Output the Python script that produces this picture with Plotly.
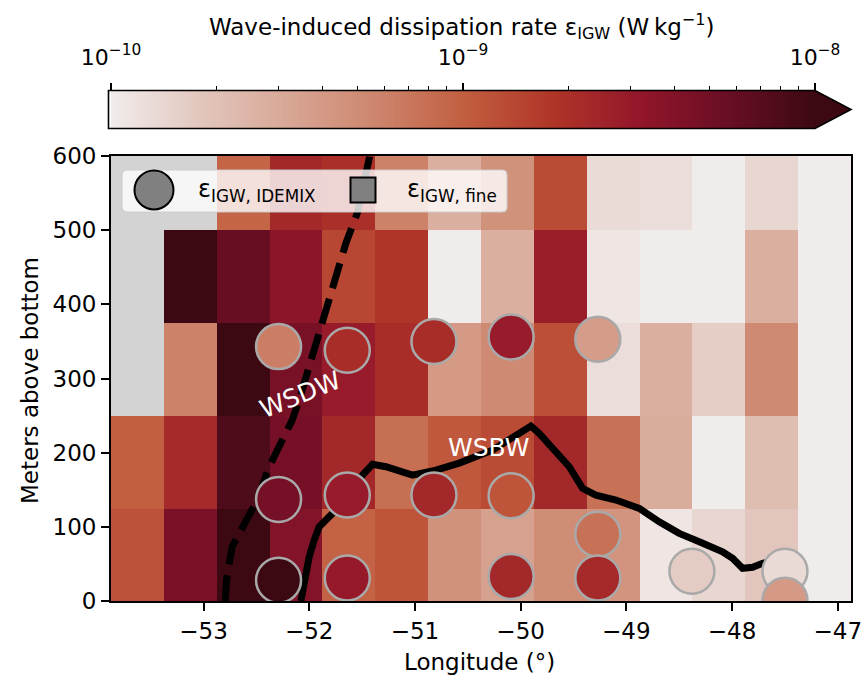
import numpy as np
import plotly.graph_objects as go

# ---------------------------------------------------------------------------
# Data
# ---------------------------------------------------------------------------
# Longitude bin edges (deg) and height-above-bottom bin edges (m)
LON_EDGES = [-53.875 + 0.5 * k for k in range(15)]
HAB_EDGES = [0, 125, 250, 375, 500, 625]

nan = np.nan
# Finestructure dissipation (W kg^-1), one list per height bin (bottom -> top)
EPS_FINE_0_125 = [1.2e-9, 4.4e-9, 1.1e-8, 4.0e-9, 9.5e-10, 1.15e-9, 4.6e-10,
                  3.5e-10, 5.0e-10, 4.4e-10, 1.1e-10, 1.4e-10, 1.8e-10, 1.0e-10]
EPS_FINE_125_250 = [1.0e-9, 2.2e-9, 7.9e-9, 4.8e-9, 2.3e-9, 7.9e-10, 1.1e-9,
                    1.3e-9, 2.3e-9, 7.6e-10, 2.9e-10, 1.0e-10, 2.1e-10, 1.0e-10]
EPS_FINE_250_375 = [nan, 6.0e-10, 1.1e-8, 4.6e-9, 2.9e-9, 2.1e-9, 4.0e-10,
                    5.2e-10, 1.26e-9, 1.26e-10, 2.75e-10, 1.6e-10, 5.2e-10, 1.0e-10]
EPS_FINE_375_500 = [nan, 1.1e-8, 5.8e-9, 3.5e-9, 1.4e-9, 1.8e-9, 1.0e-10,
                    2.75e-10, 2.75e-9, 1.1e-10, 1.0e-10, 1.0e-10, 2.75e-10, 1.0e-10]
EPS_FINE_500_625 = [nan, nan, 9.1e-10, 2.3e-9, 2.0e-9, 6.0e-10, 2.75e-10,
                    4.6e-10, 1.3e-9, 1.3e-10, 1.26e-10, 1.0e-10, 1.4e-10, 1.0e-10]

# IDEMIX model estimates at individual locations
IDEMIX_LON = [-52.29, -51.64, -50.82, -50.09, -49.27,
              -52.29, -51.64, -50.82, -50.09, -49.27,
              -52.29, -51.64, -50.09, -49.27, -48.38, -47.50, -47.50]
IDEMIX_HAB = [343, 338, 350, 356, 353,
              137, 143, 143, 142, 90,
              28, 31, 33, 31, 40, 40, 1]
IDEMIX_EPS = [6.3e-10, 2.1e-9, 2.1e-9, 2.9e-9, 3.8e-10,
              4.8e-9, 2.9e-9, 2.3e-9, 1.15e-9, 7.6e-10,
              1.1e-8, 3.0e-9, 2.3e-9, 2.2e-9, 1.66e-10, 1.32e-10, 4.0e-10]

# Water-mass boundaries
WSDW_LON = [-52.795, -52.779, -52.728, -52.599, -52.492, -52.379, -52.268,
            -52.161, -52.095, -52.0, -51.811, -51.653, -51.546, -51.48, -51.43, -51.41]
WSDW_HAB = [0, 32.7, 73.2, 105.1, 136.1, 181, 212.9,
            243.9, 270.8, 315.7, 405.6, 482.4, 522.8, 567.2, 598.2, 630]
WSBW_LON = [-52.079, -52.047, -52.0, -51.953, -51.905, -51.842, -51.747, -51.590,
            -51.496, -51.401, -51.274, -51.023, -50.801, -50.581, -50.266, -50.077,
            -49.903, -49.824, -49.666, -49.540, -49.414, -49.288, -49.098, -48.878,
            -48.689, -48.500, -48.310, -48.090, -47.995, -47.901, -47.806, -47.712,
            -47.60]
WSBW_HAB = [0, 28.3, 59.7, 82.2, 100.1, 109.1, 122.6, 145.1,
            169.8, 184.2, 181, 169.8, 176.5, 185.9, 203.4, 219.2,
            235.8, 226, 199, 181, 151.8, 142.8, 136.1, 124.9,
            106.8, 91.2, 79.9, 66.4, 57.5, 44.1, 45.4, 50.8,
            54]

X_TICKS = [-53, -52, -51, -50, -49, -48, -47]
Y_TICKS = [0, 100, 200, 300, 400, 500, 600]
CB_TICKS = [-10, -9, -8]
CB_TICKTEXT = ["10<sup>\u221210</sup>", "10<sup>\u22129</sup>", "10<sup>\u22128</sup>"]

# "amp"-style sequential colormap
AMP = [
    [0.0, "rgb(241,236,236)"],
    [0.125, "rgb(226,199,190)"],
    [0.25, "rgb(216,167,150)"],
    [0.375, "rgb(205,134,110)"],
    [0.5, "rgb(194,95,65)"],
    [0.625, "rgb(176,54,40)"],
    [0.75, "rgb(147,22,42)"],
    [0.875, "rgb(105,14,36)"],
    [1.0, "rgb(60,9,18)"],
]
ZMIN, ZMAX = -10, -8

FONT = "DejaVu Sans"
FS = 23

# ---------------------------------------------------------------------------
# Layout geometry (pixels)
# ---------------------------------------------------------------------------
W, H = 862, 675
ML, MR, MT, MB = 111, 11, 0, 74
PW, PH = W - ML - MR, H - MT - MB


def px(xp):
    return (xp - ML) / PW


def py(yp):
    return (H - MB - yp) / PH


MAIN_TOP = 156
CB_TOP, CB_BOT, CB_RIGHT, CB_TIP = 90.5, 128.5, 815, 851

fig = go.Figure()

# Gridded finestructure estimates
z_fine = np.log10(np.array([EPS_FINE_0_125, EPS_FINE_125_250, EPS_FINE_250_375,
                            EPS_FINE_375_500, EPS_FINE_500_625]))
fig.add_trace(go.Heatmap(
    x=LON_EDGES, y=HAB_EDGES, z=z_fine, colorscale=AMP, zmin=ZMIN, zmax=ZMAX,
    showscale=False, hoverongaps=False, xaxis="x", yaxis="y",
))

# Water-mass boundaries
fig.add_trace(go.Scatter(
    x=WSDW_LON, y=WSDW_HAB, mode="lines",
    line=dict(color="black", width=7, dash="26px,11px"),
    showlegend=False, xaxis="x", yaxis="y",
))
fig.add_trace(go.Scatter(
    x=WSBW_LON, y=WSBW_HAB, mode="lines",
    line=dict(color="black", width=7),
    showlegend=False, xaxis="x", yaxis="y",
))

# IDEMIX point estimates
fig.add_trace(go.Scatter(
    x=IDEMIX_LON, y=IDEMIX_HAB, mode="markers",
    marker=dict(size=45, color=np.log10(IDEMIX_EPS), colorscale=AMP,
                cmin=ZMIN, cmax=ZMAX, line=dict(color="#A9A9A9", width=2.5)),
    showlegend=False, xaxis="x", yaxis="y",
))

# Colour bar strip
cb_edges = np.linspace(ZMIN, ZMAX, 401)
cb_mid = 0.5 * (cb_edges[:-1] + cb_edges[1:])
fig.add_trace(go.Heatmap(
    x=cb_edges, y=[0, 1], z=[cb_mid], colorscale=AMP, zmin=ZMIN, zmax=ZMAX,
    showscale=False, hoverinfo="skip", xaxis="x2", yaxis="y2",
))

minor_vals = [np.log10(k) + n for n in (-10, -9) for k in range(2, 10)]

tickfont = dict(family=FONT, size=FS, color="black")
fig.update_layout(
    width=W, height=H,
    margin=dict(l=ML, r=MR, t=MT, b=MB, autoexpand=False),
    paper_bgcolor="white",
    plot_bgcolor="#D3D3D3",
    font=dict(family=FONT, size=FS, color="black"),
    showlegend=False,
    xaxis=dict(
        domain=[0, 1], range=[LON_EDGES[0], LON_EDGES[-1]],
        tickvals=X_TICKS, ticks="outside", ticklen=8, tickwidth=1.6,
        tickcolor="black", tickfont=tickfont, automargin=False,
        ticklabeloverflow="allow",
        showline=True, linecolor="black", linewidth=1.8, mirror=True,
        showgrid=False, zeroline=False, anchor="y",
    ),
    yaxis=dict(
        domain=[0, py(MAIN_TOP)], range=[0, 600],
        tickvals=Y_TICKS, ticks="outside", ticklen=8, tickwidth=1.6,
        tickcolor="black", tickfont=tickfont, automargin=False,
        ticklabeloverflow="allow",
        showline=True, linecolor="black", linewidth=1.8, mirror=True,
        showgrid=False, zeroline=False, anchor="x",
    ),
    xaxis2=dict(
        domain=[0, px(CB_RIGHT)], range=[ZMIN, ZMAX], anchor="y2", side="top",
        tickvals=CB_TICKS, ticktext=CB_TICKTEXT, ticks="outside", ticklen=7,
        tickwidth=1.5, tickcolor="black", automargin=False,
        ticklabeloverflow="allow",
        tickfont=dict(family=FONT, size=22, color="black"),
        ticklabelstandoff=9,
        minor=dict(tickvals=minor_vals, ticks="outside", ticklen=4,
                   tickwidth=1.2, tickcolor="black"),
        showline=False, showgrid=False, zeroline=False,
    ),
    yaxis2=dict(
        domain=[py(CB_BOT), py(CB_TOP)], range=[0, 1], anchor="x2",
        automargin=False,
        showticklabels=False, ticks="", showgrid=False, zeroline=False,
    ),
)

shapes = []
# Colour bar extension triangle and outline
y_mid = 0.5 * (CB_TOP + CB_BOT)
shapes.append(dict(
    type="path", xref="paper", yref="paper", layer="above",
    path=(f"M {px(CB_RIGHT)},{py(CB_TOP)} L {px(CB_TIP)},{py(y_mid)} "
          f"L {px(CB_RIGHT)},{py(CB_BOT)} Z"),
    fillcolor="rgb(60,9,18)", line=dict(width=0),
))
shapes.append(dict(
    type="path", xref="paper", yref="paper", layer="above",
    path=(f"M {px(108.5)},{py(CB_TOP)} L {px(CB_RIGHT)},{py(CB_TOP)} "
          f"L {px(CB_TIP)},{py(y_mid)} L {px(CB_RIGHT)},{py(CB_BOT)} "
          f"L {px(108.5)},{py(CB_BOT)} Z"),
    line=dict(color="black", width=1.6),
))


def rounded_box(x0, y0, x1, y1, r):
    return (f"M {px(x0 + r)},{py(y0)} L {px(x1 - r)},{py(y0)} "
            f"Q {px(x1)},{py(y0)} {px(x1)},{py(y0 + r)} "
            f"L {px(x1)},{py(y1 - r)} Q {px(x1)},{py(y1)} {px(x1 - r)},{py(y1)} "
            f"L {px(x0 + r)},{py(y1)} Q {px(x0)},{py(y1)} {px(x0)},{py(y1 - r)} "
            f"L {px(x0)},{py(y0 + r)} Q {px(x0)},{py(y0)} {px(x0 + r)},{py(y0)} Z")


# Legend frame and glyphs
shapes.append(dict(
    type="path", xref="paper", yref="paper", layer="above",
    path=rounded_box(122, 170, 507, 212, 5),
    fillcolor="rgba(255,255,255,0.8)", line=dict(color="rgba(204,204,204,0.9)", width=1.2),
))
shapes.append(dict(
    type="circle", xref="paper", yref="paper", layer="above",
    x0=px(134.5), x1=px(173.5), y0=py(209.5), y1=py(170.5),
    fillcolor="#808080", line=dict(color="black", width=2),
))
shapes.append(dict(
    type="rect", xref="paper", yref="paper", layer="above",
    x0=px(350.5), x1=px(375.5), y0=py(202.5), y1=py(177.5),
    fillcolor="#808080", line=dict(color="black", width=2),
))
fig.update_layout(shapes=shapes)

ann = []
ann.append(dict(
    text="Wave-induced dissipation rate \u03b5<sub>IGW</sub> (W\u2009kg<sup>\u22121</sup>)",
    xref="paper", yref="paper", x=px(461.5), y=py(27), showarrow=False,
    xanchor="center", yanchor="middle", font=dict(family=FONT, size=FS),
))
ann.append(dict(
    text="\u03b5<sub>IGW, IDEMIX</sub>", xref="paper", yref="paper",
    x=px(196), y=py(190), showarrow=False, xanchor="left", yanchor="middle",
    font=dict(family=FONT, size=24),
))
ann.append(dict(
    text="\u03b5<sub>IGW, fine</sub>", xref="paper", yref="paper",
    x=px(405), y=py(190), showarrow=False, xanchor="left", yanchor="middle",
    font=dict(family=FONT, size=24),
))
ann.append(dict(
    text="WSDW", xref="x", yref="y", x=-52.08, y=278, showarrow=False,
    textangle=-22, font=dict(family=FONT, size=25, color="white"),
))
ann.append(dict(
    text="WSBW", xref="x", yref="y", x=-50.30, y=207, showarrow=False,
    font=dict(family=FONT, size=25, color="white"),
))
ann.append(dict(
    text="Longitude (\u00b0)", xref="paper", yref="paper",
    x=px(479), y=py(662), showarrow=False, xanchor="center", yanchor="middle",
    font=dict(family=FONT, size=FS),
))
ann.append(dict(
    text="Meters above bottom", xref="paper", yref="paper",
    x=px(30), y=py(381), showarrow=False, xanchor="center", yanchor="middle",
    textangle=-90, font=dict(family=FONT, size=FS),
))
fig.update_layout(annotations=ann)

fig.write_html("out.html")
